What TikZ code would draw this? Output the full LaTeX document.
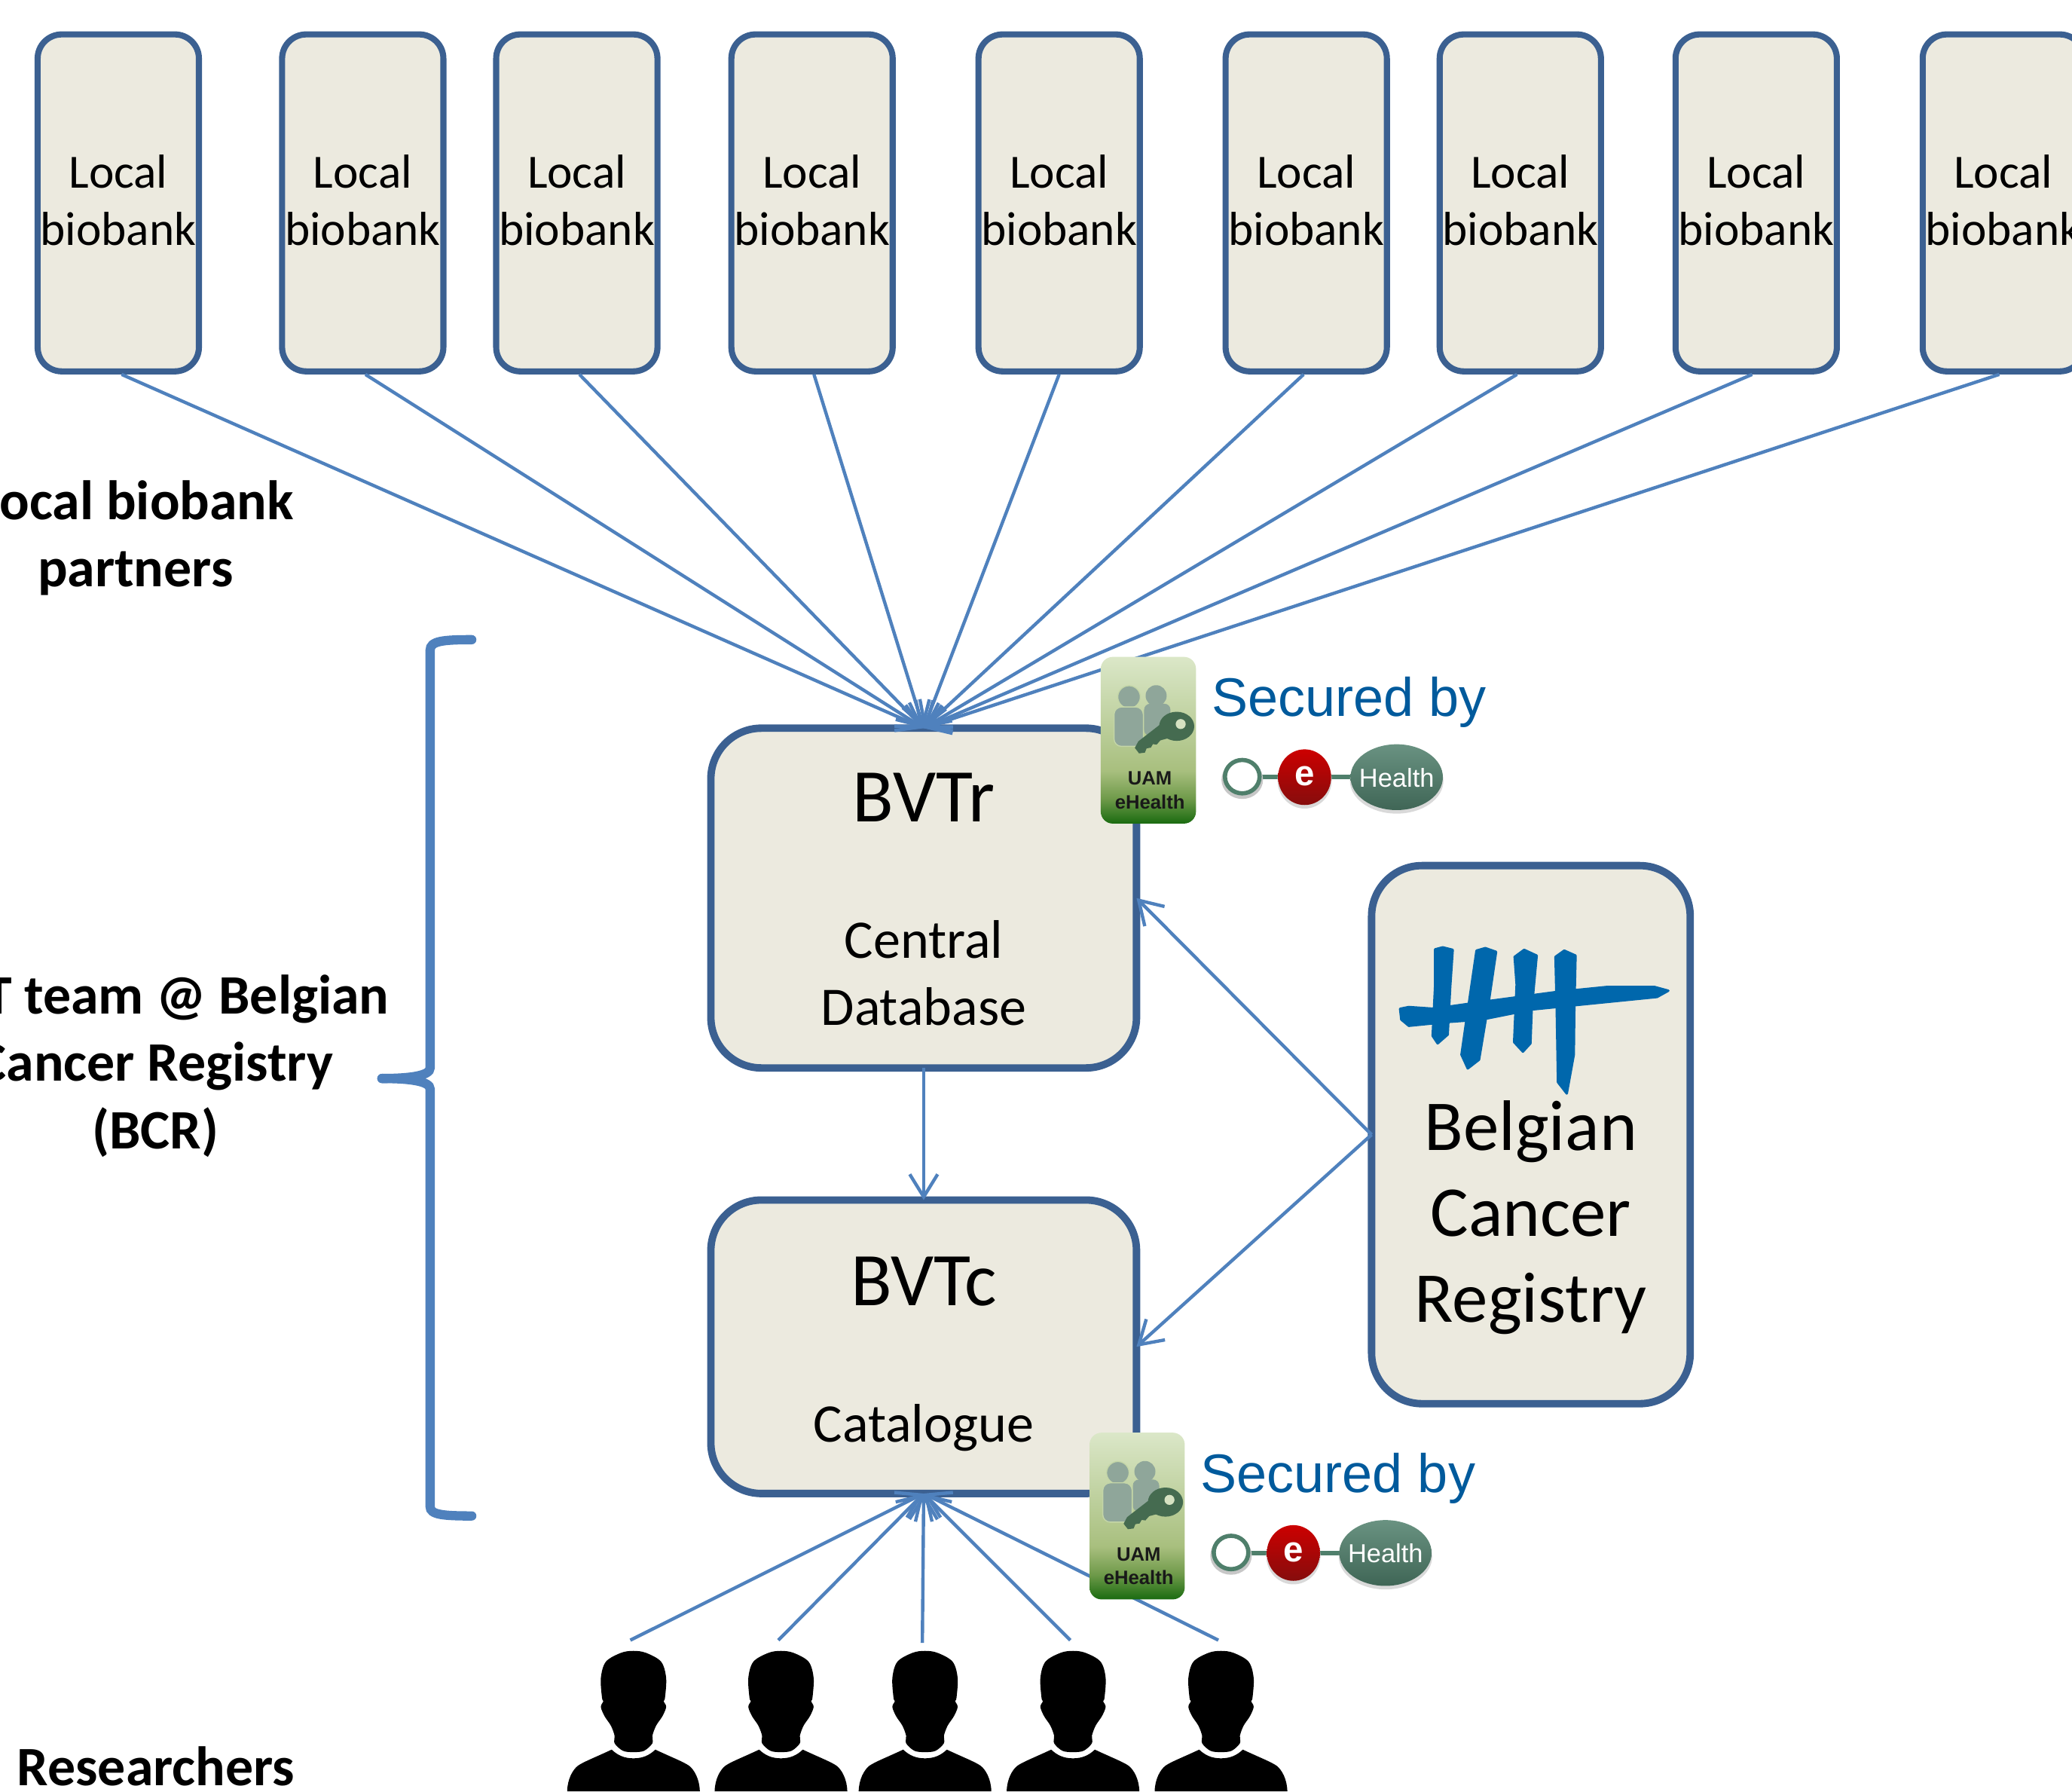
\documentclass[tikz,border=0pt]{standalone}
\usepackage{fontspec}
\setmainfont{Carlito}
\newfontfamily\arialf{Liberation Sans}
\usetikzlibrary{arrows.meta}
\definecolor{boxblue}{HTML}{3B6091}
\definecolor{boxfill}{HTML}{ECEADF}
\definecolor{linkblue}{HTML}{4F81BD}
\definecolor{secblue}{HTML}{005A9C}
\definecolor{tally}{HTML}{0067AC}
\definecolor{pgray}{HTML}{8FA69A}
\definecolor{keygreen}{HTML}{456B50}
\definecolor{ehgreen}{HTML}{4F7F6B}
\definecolor{halo}{HTML}{C4D6A8}
\pgfdeclareverticalshading{uamshade}{100bp}{
  color(0bp)=({rgb,255:red,26;green,107;blue,16});
  color(25bp)=({rgb,255:red,26;green,107;blue,16});
  color(32.5bp)=({rgb,255:red,111;green,154;blue,74});
  color(40.8bp)=({rgb,255:red,168;green,191;blue,126});
  color(75bp)=({rgb,255:red,219;green,231;blue,200});
  color(100bp)=({rgb,255:red,219;green,231;blue,200})}
\tikzset{
  localbox/.style={draw=boxblue,fill=boxfill,line width=2.3pt,rounded corners=0.32cm,
    minimum width=2.14cm,minimum height=4.47cm,inner sep=0pt},
  localtext/.style={inner sep=0pt,align=center,font=\fontsize{18}{21.4}\selectfont},
  bigbox/.style={draw=boxblue,fill=boxfill,line width=2.8pt,rounded corners=0.67cm,inner sep=0pt,outer sep=0pt},
  titletext/.style={anchor=base,inner sep=0pt,font=\fontsize{28.6}{32}\selectfont},
  subtext/.style={anchor=base,inner sep=0pt,font=\fontsize{20.5}{25}\selectfont},
  boldlabel/.style={align=center,inner sep=0pt,font=\fontsize{21}{25.4}\selectfont\bfseries},
  link/.style={draw=linkblue,line width=1.25pt,-{Straight Barb[length=3mm,width=3.7mm]}},
  bracket/.style={draw=linkblue,line width=3.5pt,line cap=round},
  secbadge/.pic={
    \begin{scope}[shift={(-11.78,-6.65)},x=0.003333cm,y=-0.003333cm]
      \shade[shading=uamshade,rounded corners=0.16cm] (62,35) rectangle (442,700);
      \fill[pgray] (283,190) circle[radius=42];
      \fill[pgray,rounded corners=0.08cm] (235,222) rectangle (340,350);
      \draw[halo,line width=0.4pt,fill=pgray] (175,195) circle[radius=45];
      \draw[halo,line width=0.4pt,fill=pgray,rounded corners=0.1cm] (115,235) rectangle (232,392);
      \fill[keygreen] (365,312) ellipse[x radius=70,y radius=58];
      \fill[keygreen] (330,360) -- (300,368) -- (285,385) -- (270,383) -- (262,397) -- (245,400)
        -- (238,417) -- (215,420) -- (198,398) -- (212,372) -- (305,300) -- cycle;
      \fill[halo!70!white] (381,303) circle[radius=20];
      \node[inner sep=0pt,align=center,text=black!90,
        font=\arialf\fontsize{7.3}{9}\selectfont\bfseries] (-uam) at (258,567) {UAM\\eHealth};
    \end{scope}
    \begin{scope}[shift={(-34.9,-18.1)},x=0.003827cm,y=-0.00335cm]
      \node[anchor=base west,inner sep=0pt,text=secblue,
        font=\arialf\fontsize{20.5}{25}\selectfont] (-sec) at (543,330) {Secured by};
      \draw[ehgreen,line width=1.7pt] (715,570) -- (1030,570);
      \fill[black!22] (650,580) ellipse[x radius=72,y radius=76];
      \draw[ehgreen,line width=1.6pt,fill=white] (650,568) ellipse[x radius=60,y radius=66];
      \fill[black!15] (866,582) ellipse[x radius=94,y radius=112];
      \shade[top color=red!80!black,bottom color=red!50!black!95] (866,570) ellipse[x radius=92,y radius=110];
      \node[inner sep=0pt,text=white,font=\arialf\fontsize{13.5}{15}\selectfont\bfseries] (-e) at (866,566) {e};
      \fill[black!15] (1185,584) ellipse[x radius=162,y radius=130];
      \shade[top color=ehgreen!85!white,bottom color=ehgreen!80!black] (1185,570) ellipse[x radius=160,y radius=130];
      \node[inner sep=0pt,text=white,font=\arialf\fontsize{9.8}{11}\selectfont] (-h) at (1185,572) {Health};
    \end{scope}
  },
  person/.pic={
    \fill[black] plot[smooth cycle,tension=0.55] coordinates {(0,0) (9.5,1.5) (20.9,8.2) (24.7,20.5)
      (23.8,35.7) (22.8,38) (24.7,42.4) (21.9,49.4) (17.1,56.6) (14.3,64.2) (14.3,69.9) (8,75.6)
      (0,76.6) (-8,75.6) (-14.3,69.9) (-14.3,64.2) (-17.1,56.6) (-21.9,49.4) (-24.7,42.4) (-22.8,38)
      (-23.8,35.7) (-24.7,20.5) (-20.9,8.2) (-9.5,1.5)};
    \fill[black] (-50.2,106.3) .. controls (-50,97) and (-46,90) .. (-42.2,87)
      .. controls (-38,84) and (-30,81) .. (-16.5,74.7)
      .. controls (-12,79) and (-7,81.3) .. (0,81.3)
      .. controls (7,81.3) and (12,79) .. (16.5,74.7)
      .. controls (30,81) and (38,84) .. (42.2,87)
      .. controls (46,90) and (50,97) .. (50.2,106.3) -- cycle;
  }
}
\begin{document}
\begin{tikzpicture}[x=0.017538cm,y=-0.017538cm]
\useasboundingbox (0,0) rectangle (1568,1355.33);
\foreach \n/\cx in {1/89.5,2/274.5,3/436.5,4/614.5,5/801.5,6/988.5,7/1150.5,8/1329,9/1516}{
  \node[localbox] (lb\n) at (\cx,153.5) {};
  \node[localtext] (lt\n) at (\cx,151.5) {Local\\biobank};
}

\node[bigbox,minimum width=5.647cm,minimum height=4.507cm] (bvtr) at (699,679.5) {};
\node[titletext] (bvtrt) at (699,622) {BVTr};
\node[subtext] (bvtrs1) at (699,725) {Central};
\node[subtext] (bvtrs2) at (699,776) {Database};
\node[bigbox,minimum width=5.647cm,minimum height=3.893cm] (bvtc) at (699,1019) {};
\node[titletext] (bvtct) at (699,988) {BVTc};
\node[subtext] (bvtcs) at (699,1091) {Catalogue};
\node[bigbox,minimum width=4.227cm,minimum height=7.138cm] (bcr) at (1158.5,858.5) {};
\node[inner sep=0pt,align=center,font=\fontsize{27}{32.4}\selectfont] (bcrtext) at (1158.5,921)
  {Belgian\\Cancer\\Registry};

\begin{scope}[shift={(1026.3,650)},x=0.003333cm,y=-0.003333cm]
  \begin{scope}[tally,line width=0.9pt,line join=round]
  \filldraw (175,597) -- (210,590) -- (310,597) -- (500,570) -- (800,530) -- (1000,510)
    -- (1190,510) -- (1245,525) -- (1200,550) -- (1000,570) -- (700,600) -- (500,640)
    -- (360,650) -- (210,665) -- (180,640) -- cycle;
  \filldraw (315,360) -- (345,352) -- (385,362) -- (375,510) -- (365,700) -- (325,735) -- (305,705) -- (315,500) -- cycle;
  \filldraw (480,365) -- (515,355) -- (558,370) -- (530,560) -- (490,800) -- (445,835) -- (420,780) -- (440,640) -- cycle;
  \filldraw (632,390) -- (670,362) -- (720,385) -- (700,600) -- (695,735) -- (665,768) -- (630,730) -- (640,500) -- cycle;
  \filldraw (795,390) -- (830,365) -- (875,385) -- (870,600) -- (868,780) -- (840,935) -- (805,890) -- (800,600) -- cycle;
  \end{scope}
\end{scope}

\foreach \n/\dx in {1/0.044,2/0.035,3/0.035,4/0.026,5/0,6/-0.035,7/-0.044,8/-0.053,9/-0.053}
  \draw[link] ([xshift=\dx cm]lb\n.south) -- (bvtr.north);
\draw[link] (bvtr.south) -- (bvtc.north);
\draw[link] (bcr.west) -- (bvtr.east);
\draw[link] (bcr.west) -- (bvtc.east);

\coordinate (pe1) at (477,1241);
\coordinate (pe2) at (589,1241);
\coordinate (pe3) at (698,1243);
\coordinate (pe4) at (810,1241);
\coordinate (pe5) at (922,1241);
\foreach \n in {1,...,5}
  \draw[link] (pe\n) -- (bvtc.south);

\pic (s1) at (833,497) {secbadge};
\pic (s2) at (824.5,1084) {secbadge};

\foreach \cx in {479.4,591,700,812,924}
  \pic at (\cx,1249.1) {person};

\draw[bracket] (357,484) .. controls (335,484) and (325.5,485) .. (325.5,492) -- (325.5,808)
  .. controls (325.5,814) and (310,816) .. (289,816);
\draw[bracket] (289,816) .. controls (310,816) and (325.5,818) .. (325.5,824) -- (325.5,1140)
  .. controls (325.5,1146) and (335,1147) .. (357,1147);

\node[boldlabel] (lbl1) at (102.5,407) {Local biobank\\partners};
\node[boldlabel] (lbl2) at (117.5,806.5) {BVT team @ Belgian\\Cancer Registry\\(BCR)};
\node[boldlabel] (lbl3) at (118,1336.5) {Researchers};
\end{tikzpicture}
\end{document}
